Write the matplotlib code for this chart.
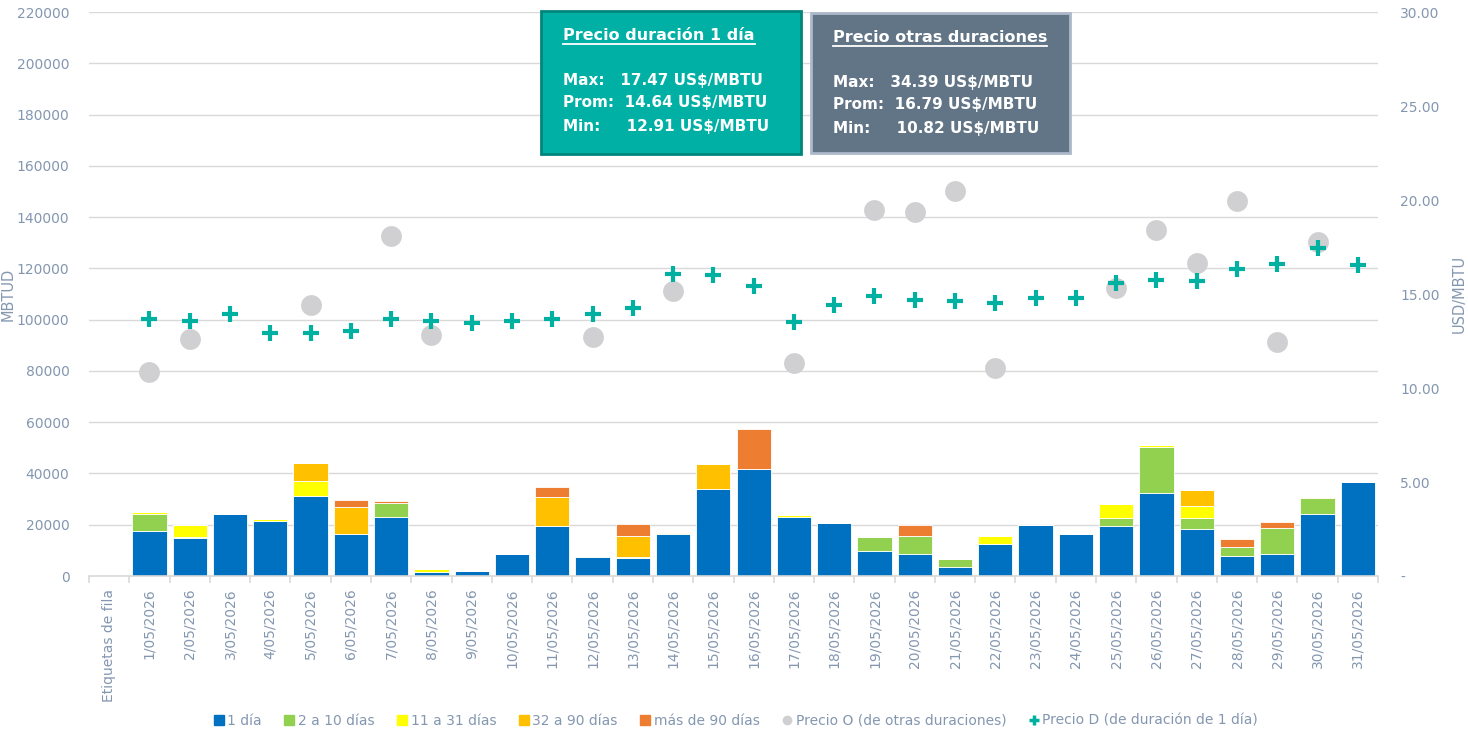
import matplotlib
matplotlib.use("Agg")
import matplotlib.pyplot as plt
import matplotlib.ticker as ticker
from matplotlib.patches import Rectangle
from matplotlib.lines import Line2D
import numpy as np

W, H = 1468, 734

categorias = ["Etiquetas de fila"] + [f"{d}/05/2026" for d in range(1, 32)]

# MBTUD por tipo de duración (primer valor = "Etiquetas de fila", vacío)
dia_1 = [0, 17500, 14700, 24300, 21600, 31300, 16400, 23100, 1700, 2100, 8500,
         19500, 7500, 7000, 16500, 33800, 41700, 23000, 20700, 9900, 8500,
         3400, 12500, 19800, 16400, 19500, 32500, 18400, 7900, 8500, 24300, 36800]
dias_2_10 = [0, 6800, 500, 0, 0, 0, 0, 5200, 0, 0, 0,
             0, 400, 0, 400, 0, 0, 0, 0, 5200, 7100,
             3200, 0, 0, 0, 3200, 17900, 4100, 3400, 10300, 6200, 0]
dias_11_31 = [0, 600, 4600, 0, 600, 5900, 0, 0, 900, 0, 0,
              0, 0, 300, 400, 0, 0, 700, 0, 200, 0,
              0, 3000, 0, 0, 5300, 700, 4800, 0, 0, 0, 0]
dias_32_90 = [0, 0, 0, 0, 0, 6900, 10400, 0, 0, 0, 0,
              11400, 0, 8300, 0, 10000, 0, 0, 0, 0, 0,
              0, 0, 0, 0, 0, 0, 6100, 0, 0, 300, 0]
mas_90 = [0, 0, 0, 0, 0, 0, 2800, 900, 0, 0, 0,
          3700, 0, 4700, 0, 0, 15500, 0, 0, 0, 4200,
          0, 0, 0, 0, 0, 0, 0, 3100, 2300, 0, 0]

nan = np.nan
precio_o = [nan, 10.85, 12.61, nan, nan, 14.43, nan, 18.09, 12.80, nan, nan,
            nan, 12.73, nan, 15.14, nan, nan, 11.31, nan, 19.47, 19.38,
            20.46, 11.05, nan, nan, 15.30, 18.40, 16.63, 19.96, 12.46, 17.75, nan]
precio_d = [nan, 13.65, 13.56, 13.94, 12.94, 12.91, 13.03, 13.65, 13.56, 13.44, 13.58,
            13.67, 13.94, 14.26, 16.06, 16.01, 15.43, 13.49, 14.41, 14.91, 14.66,
            14.63, 14.54, 14.79, 14.79, 15.57, 15.74, 15.69, 16.35, 16.60, 17.47, 16.56]

series = [("1 día", dia_1, "#0070c0"),
          ("2 a 10 días", dias_2_10, "#92d050"),
          ("11 a 31 días", dias_11_31, "#ffff00"),
          ("32 a 90 días", dias_32_90, "#ffc000"),
          ("más de 90 días", mas_90, "#ed7d31")]

TXT = "#8497b0"
GRID = "#d9d9d9"
TEAL = "#00b0a0"
GRAY_DOT = "#d0cfd1"

plt.rcParams["font.family"] = ["DejaVu Sans"]

fig = plt.figure(figsize=(W / 100, H / 100), dpi=100)
ax = fig.add_axes([89 / W, 1 - 576 / H, (1378 - 89) / W, (576 - 12) / H])
x = np.arange(len(categorias))

bottom = np.zeros(len(categorias))
for nombre, vals, col in series:
    v = np.array(vals, dtype=float)
    ax.bar(x, v, bottom=bottom, width=0.85, color=col, edgecolor="white",
           linewidth=0.6, zorder=2)
    bottom += v

ax.set_xlim(-0.5, len(categorias) - 0.5)
ax.set_ylim(0, 220000)
ax.yaxis.set_major_locator(ticker.MultipleLocator(20000))
ax.grid(True, axis="y", color=GRID, lw=1.0, zorder=0)
ax.set_axisbelow(True)
for s in ["top", "right", "left"]:
    ax.spines[s].set_visible(False)
ax.spines["bottom"].set_color(GRID)
ax.spines["bottom"].set_linewidth(1.2)
ax.tick_params(axis="y", length=0, labelsize=10, labelcolor=TXT, pad=14)
ax.set_xticks(x)
ax.set_xticklabels(categorias, rotation=90, fontsize=10, color=TXT)
ax.tick_params(axis="x", which="major", length=0, pad=9)
ax.set_xticks(np.arange(-0.5, len(categorias), 1.0), minor=True)
ax.tick_params(axis="x", which="minor", length=5, color=GRID, width=1.2)
ax.set_ylabel("MBTUD", color=TXT, fontsize=10.5)
ax.yaxis.set_label_coords((16 - 89) / 1289, 0.5)

ax2 = ax.twinx()
ax2.set_ylim(0, 30)
ax2.yaxis.set_major_locator(ticker.MultipleLocator(5))
ax2.yaxis.set_major_formatter(
    ticker.FuncFormatter(lambda v, p: "-" if abs(v) < 1e-9 else f"{v:.2f}"))
for s in ax2.spines.values():
    s.set_visible(False)
ax2.tick_params(axis="y", length=0, labelsize=10, labelcolor=TXT, pad=16)
ax2.set_ylabel("USD/MBTU", color=TXT, fontsize=10.5)
ax2.yaxis.set_label_coords((1452 - 89) / 1289, 0.5)

ax2.plot(x, precio_o, "o", ls="none", color=GRAY_DOT, markersize=15,
         markeredgewidth=0, zorder=3)
ax2.plot(x, precio_d, "+", ls="none", color=TEAL, markersize=11,
         markeredgewidth=3, zorder=4)

# Legend
handles = [Line2D([], [], marker="s", ls="none", color=c, markersize=7)
           for _, _, c in series]
handles.append(Line2D([], [], marker="o", ls="none", color=GRAY_DOT, markersize=6))
handles.append(Line2D([], [], marker="+", ls="none", color=TEAL, markersize=7,
                      markeredgewidth=2.5))
labels = [n for n, _, _ in series] + ["Precio O (de otras duraciones)",
                                      "Precio D (de duración de 1 día)"]
leg = fig.legend(handles, labels, loc="center", bbox_to_anchor=(735 / W, 1 - 721 / H),
                 ncol=7, frameon=False, fontsize=10, handletextpad=0.1,
                 columnspacing=1.5, handlelength=1.0)
for t in leg.get_texts():
    t.set_color(TXT)

# Text boxes
def px(xp, yp):
    return xp / W, 1 - yp / H

def caja(x0, y0, x1, y1, fc, ec, titulo, lineas, tx, ty, ly):
    fig.add_artist(Rectangle(px(x0, y1), (x1 - x0) / W, (y1 - y0) / H,
                             transform=fig.transFigure, facecolor=fc,
                             edgecolor=ec, linewidth=2, zorder=10))
    t = fig.text(*px(tx, ty), titulo, color="white", fontsize=11.5,
                 fontweight="bold", va="center", ha="left", zorder=11)
    for i, ln in enumerate(lineas):
        fig.text(*px(tx, ly[i]), ln, color="white", fontsize=11,
                 fontweight="bold", va="center", ha="left", zorder=11)
    return t

t1 = caja(541, 11, 801, 154, "#00b0a5", "#00857b", "Precio duración 1 día",
          ["Max:   17.47 US$/MBTU", "Prom:  14.64 US$/MBTU", "Min:     12.91 US$/MBTU"],
          563, 35, [80, 103, 127])
t2 = caja(811, 13, 1070, 153, "#627586", "#adb9ca", "Precio otras duraciones",
          ["Max:   34.39 US$/MBTU", "Prom:  16.79 US$/MBTU", "Min:     10.82 US$/MBTU"],
          833, 37, [83, 104, 128])

fig.canvas.draw()
r = fig.canvas.get_renderer()
for t in (t1, t2):
    bb = t.get_window_extent(r)
    yline = bb.y0 - 1
    fig.add_artist(Line2D([bb.x0 / W, bb.x1 / W], [yline / H, yline / H],
                          transform=fig.transFigure, color="white", lw=1.3,
                          zorder=12))

fig.savefig("out.png", dpi=100)
